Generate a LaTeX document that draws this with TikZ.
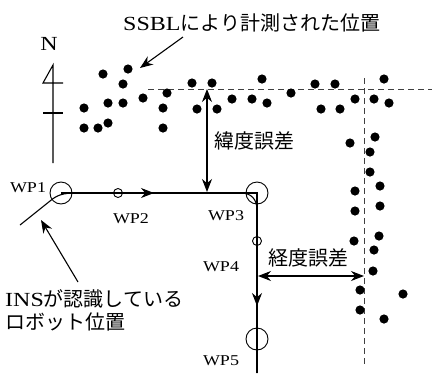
\documentclass[tikz,border=0pt]{standalone}
\usepackage{fontspec}
\setmainfont{Liberation Serif}[FakeStretch=1.2]
\newfontfamily\cjk{Noto Sans CJK JP}
\usetikzlibrary{arrows.meta}
\begin{document}
\begin{tikzpicture}[x=1pt,y=-1pt,
  ln/.style={line width=1.1pt},
  tip/.style={line width=1.1pt,-{Stealth[length=13pt,width=10pt]}},
  dtip/.style={line width=1.1pt,{Stealth[length=13pt,width=10pt]}-{Stealth[length=13pt,width=10pt]}},
  guide/.style={dash pattern=on 6pt off 4pt, line width=1pt, black!75},
  wp/.style={circle, draw, line width=0.9pt, inner sep=0pt, minimum size=22pt},
  wps/.style={circle, draw, line width=0.9pt, inner sep=0pt, minimum size=9pt},
  lab/.style={inner sep=0pt, font=\fontsize{15}{17}\selectfont},
  big/.style={inner sep=0pt, font=\fontsize{20}{22}\selectfont},
]
\useasboundingbox (0,0) rectangle (432,373);

% dashed guide lines
\coordinate (hdL) at (148,89);
\coordinate (hdR) at (432,89);
\coordinate (vdT) at (364,78);
\coordinate (vdB) at (364,366);
\draw[guide] (hdL) -- (hdR);
\draw[guide] (vdT) -- (vdB);

% measured SSBL positions
\foreach \p in {(103,74),(128,69),(123,84),(108,103),(123,103),(143,98),(167,93),(192,83),
  (84,108),(163,108),(197,109),(84,128),(98,128),(108,123),(163,128),
  (212,83),(217,109),(232,99),(252,99),(262,79),(267,103),(291,93),(315,84),(321,109),
  (335,84),(340,109),(355,99),(374,99),(384,79),(389,103),
  (350,143),(375,137),(370,152),(370,172),(355,191),(380,186),(355,211),(380,206),
  (354,241),(379,236),(374,250),(373,271),(360,290),(360,310),(403,294),(384,319)}
  \fill \p circle (4.6pt);

% waypoints
\node[wp] (wp1) at (61,193) {};
\node[wps] (wp2) at (118,193) {};
\node[wp] (wp3) at (257,193) {};
\node[wps] (wp4) at (257,241) {};
\node[wp] (wp5) at (257,339) {};
\coordinate (bot) at (257,373);
\coordinate (start) at (20,225);

% planned path
\draw[ln] (wp1.center) -- (wp3.center) -- (bot);
% INS path
\draw[ln] (start) -- (50,201) .. controls (57,195) and (63,193) .. (76,193) -- (241,193)
  .. controls (251,193) and (257,199) .. (257,210) -- (bot);

% direction arrows
\coordinate (a1s) at (138,193);
\coordinate (a1e) at (154,193);
\draw[tip] (a1s) -- (a1e);
\coordinate (a2s) at (257,290);
\coordinate (a2e) at (257,306);
\draw[tip] (a2s) -- (a2e);

% north symbol
\coordinate (nt) at (53,65);
\coordinate (nb) at (53,163);
\coordinate (nk) at (43,83);
\coordinate (nr) at (63,83);
\coordinate (ncl) at (43,113);
\coordinate (ncr) at (63,113);
\draw[ln] (nb) -- (nt) -- (nk) -- (nr);
\draw[ln] (ncl) -- (ncr);
\node[big, anchor=base] (ntext) at (49,50) {N};

% error arrows
\coordinate (latT) at (207,89);
\coordinate (latB) at (207,192);
\draw[dtip] (latT) -- (latB);
\coordinate (lonL) at (258,276);
\coordinate (lonR) at (364,276);
\draw[dtip] (lonL) -- (lonR);
\node[big] (lat) at (254,141) {\cjk 緯度誤差};
\node[big] (lon) at (308,258) {\cjk 経度誤差};

% title and pointer
\node[big, anchor=base west] (title) at (123,30) {SSBL{\cjk により計測された位置}};
\coordinate (tp1) at (183,37);
\coordinate (tp2) at (140,68);
\draw[tip] (tp1) -- (tp2);

% waypoint labels
\node[lab, anchor=base] (l1) at (28,192) {WP1};
\node[lab, anchor=base] (l2) at (131,223) {WP2};
\node[lab, anchor=base] (l3) at (226,220) {WP3};
\node[lab, anchor=base] (l4) at (221,271) {WP4};
\node[lab, anchor=base] (l5) at (221,365) {WP5};

% INS label and pointer
\node[big, anchor=base west] (ins1) at (5,306) {INS{\cjk が認識している}};
\node[big, anchor=base west] (ins2) at (5,329) {\cjk ロボット位置};
\coordinate (ip1) at (78,282);
\coordinate (ip2) at (41,220);
\draw[tip] (ip1) -- (ip2);
\end{tikzpicture}
\end{document}
